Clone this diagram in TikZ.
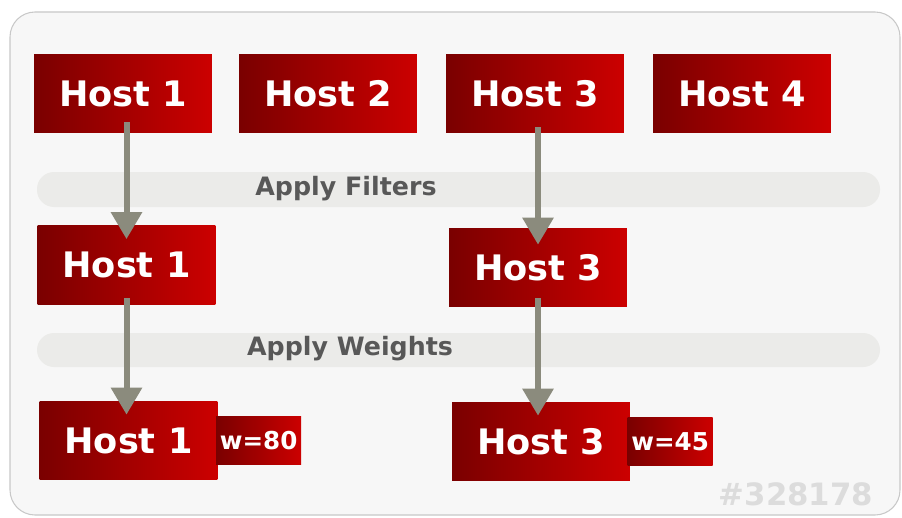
\documentclass[tikz,border=0pt]{standalone}
\usepackage{fontspec}
\setmainfont{DejaVu Sans}
\usepackage{xcolor}
\definecolor{hostDark}{HTML}{7A0000}
\definecolor{hostLight}{HTML}{CC0000}
\definecolor{panelFill}{HTML}{F7F7F7}
\definecolor{panelLine}{HTML}{C8C8C8}
\definecolor{bandFill}{HTML}{EBEBE9}
\definecolor{bandText}{HTML}{585858}
\definecolor{flowGray}{HTML}{8B8B7D}
\definecolor{markGray}{HTML}{DCDCDC}
\usetikzlibrary{positioning,arrows.meta}

\begin{document}
\begin{tikzpicture}[x=0.02cm,y=-0.02cm,
    host/.style={shading=axis, left color=hostDark, right color=hostLight,
      shading angle=90, minimum width=3.56cm, minimum height=1.58cm, inner sep=0pt,
      text=white, font=\fontsize{20}{24}\selectfont\bfseries},
    weight/.style={shading=axis, left color=hostDark, right color=hostLight,
      shading angle=90, minimum width=1.7cm, minimum height=0.96cm, inner sep=0pt,
      text=white, font=\fontsize{14}{16}\selectfont\bfseries},
    band/.style={fill=bandFill, rounded corners=0.34cm},
    bandlabel/.style={text=bandText, font=\fontsize{14.4}{16}\selectfont\bfseries},
    flow/.style={draw=flowGray, line width=0.12cm,
      -{Triangle[width=0.6cm,length=0.54cm]}}]
  \useasboundingbox (0,0) rectangle (902,517);
  % the panel
  \draw[panelLine, fill=panelFill, line width=0.6pt, rounded corners=0.5cm]
    (10,12) rectangle (900,515);
  % the two stages
  \fill[band] (37,172) rectangle (880,207);
  \fill[band] (37,333) rectangle (880,367);
  \node[bandlabel] (filters) at (346,189) {Apply Filters};
  \node[bandlabel] (weights) at (350,349) {Apply Weights};
  % all hosts
  \node[host] (t1) at (123,93.5) {Host 1};
  \node[host] (t2) at (328,93.5) {Host 2};
  \node[host] (t3) at (535,93.5) {Host 3};
  \node[host] (t4) at (742,93.5) {Host 4};
  % hosts left after filtering
  \node[host] (m1) at (126.5,265) {Host 1};
  \node[host] (m3) at (538,267.5) {Host 3};
  % weighted hosts
  \node[host] (b1) at (128.5,440.5) {Host 1};
  \node[host] (b3) at (541,441.5) {Host 3};
  \node[weight, right=-0.04cm of b1] (w1) {w=80};
  \node[weight, right=-0.06cm of b3] (w3) {w=45};
  % arrows
  \draw[flow] ([yshift=0.22cm]t1.south -| m1.north) -- ([yshift=-0.28cm]m1.north);
  \draw[flow] ([yshift=0.14cm]m1.south) -- ([yshift=-0.28cm]b1.north -| m1.south);
  \draw[flow] ([yshift=0.12cm]t3.south -| m3.north) -- ([yshift=-0.34cm]m3.north);
  \draw[flow] ([yshift=0.18cm]m3.south) -- ([yshift=-0.28cm]b3.north -| m3.south);
  % figure number
  \node[text=markGray, font=\fontsize{17.5}{20}\selectfont\bfseries] (fig) at (796,494) {\#328178};
\end{tikzpicture}
\end{document}
